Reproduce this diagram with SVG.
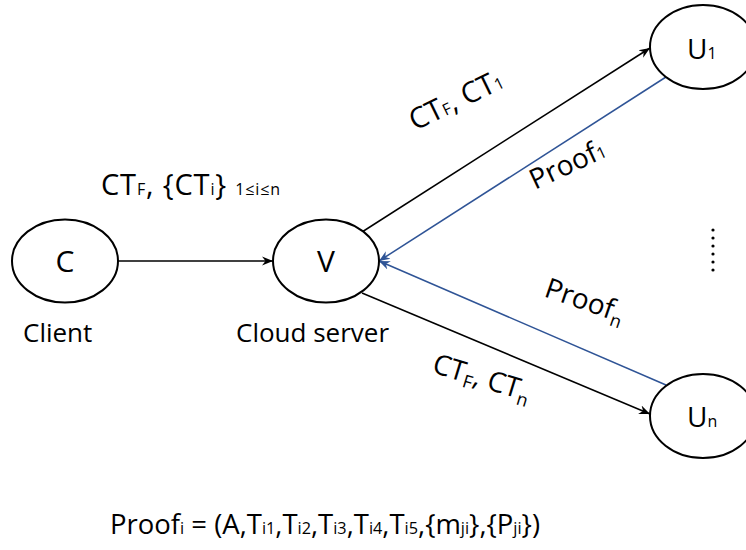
<svg xmlns="http://www.w3.org/2000/svg" width="746" height="550" viewBox="0 0 746 550">
  <style>
    .node { fill: #ffffff; stroke: #000000; stroke-width: 2; }
    .lbl { font-family: "Open Sans", "Liberation Sans", sans-serif; fill: #000000; }
    .big { font-size: 26px; }
    .edge { fill: none; stroke: #000000; stroke-width: 1.5; }
    .back { fill: none; stroke: #2f5496; stroke-width: 1.5; }
  </style>
  <defs>
    <marker id="arrowBlack" markerUnits="userSpaceOnUse" markerWidth="12" markerHeight="10" refX="11" refY="5" orient="auto">
      <path d="M0,0.5 L11,5 L0,9.5 L3.5,5 Z" fill="#000000"/>
    </marker>
    <marker id="arrowBlue" markerUnits="userSpaceOnUse" markerWidth="12" markerHeight="10" refX="11" refY="5" orient="auto">
      <path d="M0,0.5 L11,5 L0,9.5 L3.5,5 Z" fill="#2f5496"/>
    </marker>
  </defs>

  <!-- connectors -->
  <g id="connectors">
    <line class="edge" x1="118" y1="261" x2="273" y2="261" marker-end="url(#arrowBlack)"/>
    <line class="edge" x1="362" y1="232" x2="650" y2="48" marker-end="url(#arrowBlack)"/>
    <line class="edge" x1="362" y1="293" x2="650" y2="414" marker-end="url(#arrowBlack)"/>
    <line class="back" x1="666" y1="77" x2="379" y2="261" marker-end="url(#arrowBlue)"/>
    <line class="back" x1="666" y1="385" x2="379" y2="261" marker-end="url(#arrowBlue)"/>
  </g>

  <!-- nodes -->
  <g id="node-client">
    <ellipse class="node" cx="65" cy="261" rx="53" ry="41.5"/>
    <text class="lbl" x="65" y="272" font-size="30" text-anchor="middle">C</text>
    <text class="lbl big" x="23" y="342">Client</text>
  </g>
  <g id="node-server">
    <ellipse class="node" cx="326" cy="261" rx="53" ry="41.5"/>
    <text class="lbl" x="326" y="272" font-size="30" text-anchor="middle">V</text>
    <text class="lbl big" x="236" y="342">Cloud server</text>
  </g>
  <g id="node-u1">
    <ellipse class="node" cx="703" cy="47" rx="53" ry="42"/>
    <text class="lbl" x="687" y="59" font-size="28">U<tspan font-size="16">1</tspan></text>
  </g>
  <g id="node-un">
    <ellipse class="node" cx="703" cy="416" rx="53" ry="42"/>
    <text class="lbl" x="687" y="427" font-size="28">U<tspan font-size="16">n</tspan></text>
  </g>

  <!-- vertical ellipsis between U1 and Un -->
  <g id="ellipsis" fill="#000000">
    <circle cx="713" cy="230" r="1.6"/>
    <circle cx="713" cy="238" r="1.6"/>
    <circle cx="713" cy="246" r="1.6"/>
    <circle cx="713" cy="254" r="1.6"/>
    <circle cx="713" cy="262" r="1.6"/>
    <circle cx="713" cy="270" r="1.6"/>
  </g>

  <!-- edge labels -->
  <g id="edge-labels">
    <text class="lbl" x="101" y="195" font-size="29" textLength="179" lengthAdjust="spacing">CT<tspan font-size="16">F</tspan>, {CT<tspan font-size="16">i</tspan>} <tspan font-size="16">1≤i≤n</tspan></text>
    <text class="lbl" font-size="29" transform="translate(415,131) rotate(-26)">CT<tspan font-size="16">F</tspan>, CT<tspan font-size="16">1</tspan></text>
    <text class="lbl" font-size="28" transform="translate(535,190) rotate(-25)">Proof<tspan font-size="16">1</tspan></text>
    <text class="lbl" font-size="28" transform="translate(543,296) rotate(19)">Proof<tspan font-size="18" dy="6">n</tspan></text>
    <text class="lbl" font-size="28" transform="translate(431,372) rotate(17)">CT<tspan font-size="18" dy="5">F</tspan><tspan dy="-5">, CT</tspan><tspan font-size="18" dy="6">n</tspan></text>
  </g>

  <!-- proof definition -->
  <text id="proof-def" class="lbl" x="110" y="534" font-size="27" textLength="430" lengthAdjust="spacingAndGlyphs">Proof<tspan font-size="16">i</tspan> = (A,T<tspan font-size="16">i1</tspan>,T<tspan font-size="16">i2</tspan>,T<tspan font-size="16">i3</tspan>,T<tspan font-size="16">i4</tspan>,T<tspan font-size="16">i5</tspan>,{m<tspan font-size="16">ji</tspan>},{P<tspan font-size="16">ji</tspan>})</text>
</svg>
